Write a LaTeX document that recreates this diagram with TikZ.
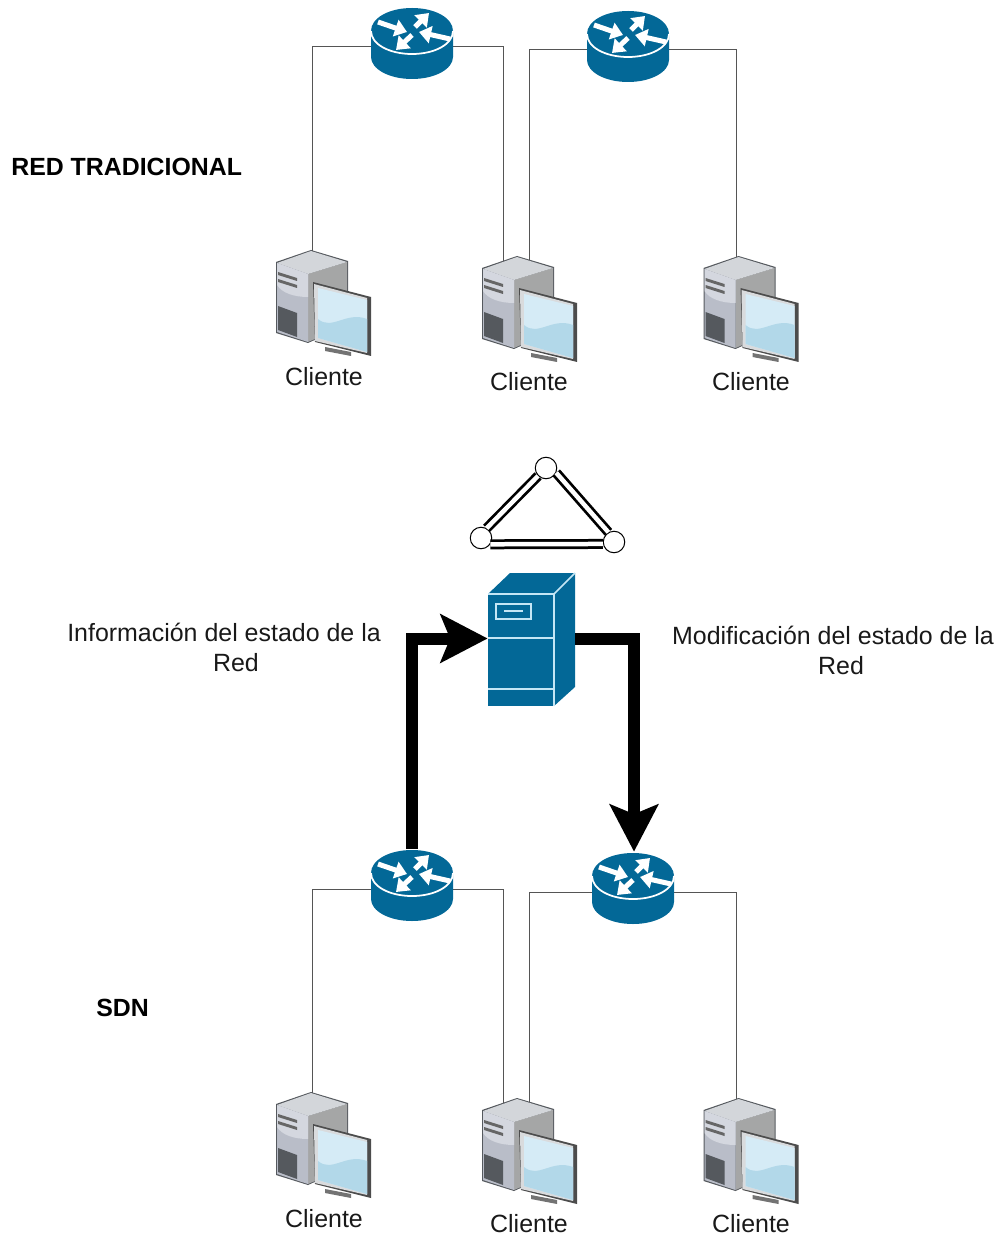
\documentclass[tikz,border=0pt]{standalone}
\usepackage{fontspec}
\setmainfont{Liberation Sans}
\usetikzlibrary{arrows.meta}
\definecolor{ciscoblue}{HTML}{036897}
\definecolor{edgeblue}{HTML}{C4E6F5}
\definecolor{wiregray}{HTML}{555555}
\definecolor{towertop}{HTML}{D3D6DA}
\definecolor{towerfront}{HTML}{B9BDC8}
\definecolor{towerlight}{HTML}{D4D7DF}
\definecolor{towerside}{HTML}{A5A6A6}
\definecolor{towerdark}{HTML}{55595E}
\definecolor{framegray}{HTML}{D9DBDD}
\definecolor{screenlight}{HTML}{D5EBF6}
\definecolor{screendark}{HTML}{B2D8E9}
\tikzset{
  routerbox/.style={minimum width=16.4mm, minimum height=16mm, inner sep=0pt},
  clientbox/.style={minimum width=19mm, minimum height=21.2mm, inner sep=0pt},
  textlabel/.style={font=\fontsize{14.2}{17}\selectfont, align=center, text=black!90},
  titlelabel/.style={font=\fontsize{14.15}{17}\selectfont\bfseries, inner sep=0pt, text=black},
  wire/.style={draw=wiregray, line width=0.2mm},
  vertexnode/.style={circle, draw, fill=white, line width=0.2mm, minimum size=4.3mm, inner sep=0pt},
  netlink/.style={double=white, double distance=0.9mm, line width=0.55mm, draw=black},
  flow/.style={line width=2.4mm, -{Stealth[length=9.4mm, width=9.6mm, inset=1.9mm]}},
  routerarrow/.style={white, line width=1mm, -{Triangle[length=2.4mm, width=3.4mm]}},
  edgeline/.style={edgeblue, line width=0.3mm},
  router/.pic={
    \fill[ciscoblue] (-41,-16) -- (-41,10) .. controls (-41,22) and (-23,32) .. (0,32)
      .. controls (23,32) and (41,22) .. (41,10) -- (41,-16) -- cycle;
    \fill[ciscoblue] (-41,-16) .. controls (-41,-29) and (-23,-39) .. (0,-39)
      .. controls (23,-39) and (41,-29) .. (41,-16) -- cycle;
    \draw[white, line width=0.35mm] (-41,-16) .. controls (-41,-3) and (-23,7) .. (0,7)
      .. controls (23,7) and (41,-3) .. (41,-16);
    \draw[routerarrow] (-34,-25) -- (-5,-15);
    \draw[routerarrow] (3,-20) -- (17,-34);
    \draw[routerarrow] (38,-8) -- (7,-15);
    \draw[routerarrow] (0,-12) -- (-16,3);
  },
  client/.pic={
    \fill[towerdark] (-48,-43) -- (-13,-55) -- (24,-44) -- (24,20) -- (-16,38) -- (-48,28) -- cycle;
    \fill[towerside] (-16,-31) -- (23,-43) -- (23,20) -- (-16,37) -- cycle;
    \fill[towertop] (-47,-42) -- (-13,-54) -- (23,-43) -- (-16,-31) -- cycle;
    \fill[towerfront] (-47,-42) -- (-16,-31) -- (-16,37) -- (-47,27) -- cycle;
    \fill[towerlight] (-47,-42) -- (-16,-31) -- (-16,-8) .. controls (-30,-8) and (-42,-12) .. (-47,-20) -- cycle;
    \fill[black!60] (-46,-33) -- (-27,-27) -- (-27,-24) -- (-46,-30) -- cycle;
    \fill[black!60] (-46,-26) -- (-27,-20) -- (-27,-17) -- (-46,-23) -- cycle;
    \fill[towerdark] (-46,1) -- (-27,8) -- (-27,32) -- (-46,25) -- cycle;
    \fill[black!55] (1,42) -- (27,47) -- (27,51) -- (1,46) -- cycle;
    \fill[black!70] (-11,-23) -- (47,-8) -- (47,51) -- (-9,37) -- cycle;
    \fill[framegray] (-10,-21) -- (43,-7) -- (43,48) -- (-9,36) -- cycle;
    \fill[screenlight] (-6,-17) -- (43,-5) -- (43,47) -- (-6,33) -- cycle;
    \fill[screendark] (-6,14) .. controls (8,26) and (22,6) .. (43,14) -- (43,47) -- (-6,33) -- cycle;
  },
  server/.pic={
    \fill[ciscoblue] (-43.5,-45.5) -- (22.5,-45.5) -- (22.5,66.5) -- (-43.5,66.5) -- cycle;
    \fill[ciscoblue] (-43.5,-45.5) -- (-21.5,-66.5) -- (43.5,-66.5) -- (22.5,-45.5) -- cycle;
    \fill[ciscoblue] (22.5,-45.5) -- (43.5,-66.5) -- (43.5,47.5) -- (22.5,66.5) -- cycle;
    \draw[edgeline] (-43.5,-45.5) -- (22.5,-45.5) -- (22.5,66.5);
    \draw[edgeline] (22.5,-45.5) -- (43.5,-66.5);
    \draw[edgeline] (-43.5,-1.5) -- (22.5,-1.5);
    \draw[edgeline] (-43.5,49.5) -- (22.5,49.5);
    \draw[edgeline] (-35.5,-35.5) rectangle (-0.5,-20.5);
    \draw[edgeline] (-27.5,-28.5) -- (-8.5,-28.5);
  },
}

\begin{document}
\begin{tikzpicture}[x=0.02cm, y=-0.02cm]
\useasboundingbox (0,0) rectangle (1000,1236);

\node[titlelabel, anchor=west] (T1) at (11,167) {RED TRADICIONAL};
\node[titlelabel, anchor=west] (T2) at (96,1008) {SDN};

\node[routerbox] (R1) at (412,47) {};
\node[routerbox] (R2) at (628,50) {};
\node[routerbox] (R3) at (412,889) {};
\node[routerbox] (R4) at (633,892) {};

\node[clientbox] (C1) at (324,305) {};
\node[clientbox] (C2) at (530,311) {};
\node[clientbox] (C3) at (751.5,311) {};
\node[clientbox] (C4) at (324,1147) {};
\node[clientbox] (C5) at (530,1153) {};
\node[clientbox] (C6) at (751.5,1153) {};

\coordinate (C1a) at (312,270);
\coordinate (C2a) at (503,275);
\coordinate (C2b) at (529,270);
\coordinate (C3a) at (736,275);
\coordinate (C4a) at (312,1112);
\coordinate (C5a) at (503,1117);
\coordinate (C5b) at (529,1112);
\coordinate (C6a) at (736,1117);

\draw[wire] (R1.west) -| (C1a);
\draw[wire] (R1.east) -| (C2a);
\draw[wire] (R2.west) -| (C2b);
\draw[wire] (R2.east) -| (C3a);
\draw[wire] (R3.west) -| (C4a);
\draw[wire] (R3.east) -| (C5a);
\draw[wire] (R4.west) -| (C5b);
\draw[wire] (R4.east) -| (C6a);

\pic at (R1) {router};
\pic at (R2) {router};
\pic at (R3) {router};
\pic at (R4) {router};
\pic at (C1) {client};
\pic at (C2) {client};
\pic at (C3) {client};
\pic at (C4) {client};
\pic at (C5) {client};
\pic at (C6) {client};

\node[textlabel] (L1) at (324,377) {Cliente};
\node[textlabel] (L2) at (529,382) {Cliente};
\node[textlabel] (L3) at (751,382) {Cliente};
\node[textlabel] (L4) at (324,1219) {Cliente};
\node[textlabel] (L5) at (529,1224) {Cliente};
\node[textlabel] (L6) at (751,1224) {Cliente};

\node[vertexnode] (V1) at (546,468) {};
\node[vertexnode] (V2) at (481,538) {};
\node[vertexnode] (V3) at (614,542) {};
\draw[netlink] (V2.60) -- (V1.225);
\draw[netlink] (V1.-25) -- (V3.120);
\draw[netlink] (V2.-34) -- (V3.190);

\node[minimum width=17.4mm, minimum height=26.6mm, inner sep=0pt] (S) at (531.5,639.5) {};
\pic at (S) {server};

\coordinate (A) at (411.5,638.5);
\coordinate (B) at (634,638.5);
\draw[flow] (R3.north -| A) -- (A) -- (S.west |- A);
\draw[flow] (S.east |- B) -- (B) -- (R4.north -| B);

\node[textlabel] (I) at (224,647) {Información del estado de la\\\hspace*{4.8mm}Red};
\node[textlabel] (M) at (833,650) {Modificación del estado de la\\\hspace*{3.2mm}Red};

\end{tikzpicture}
\end{document}
